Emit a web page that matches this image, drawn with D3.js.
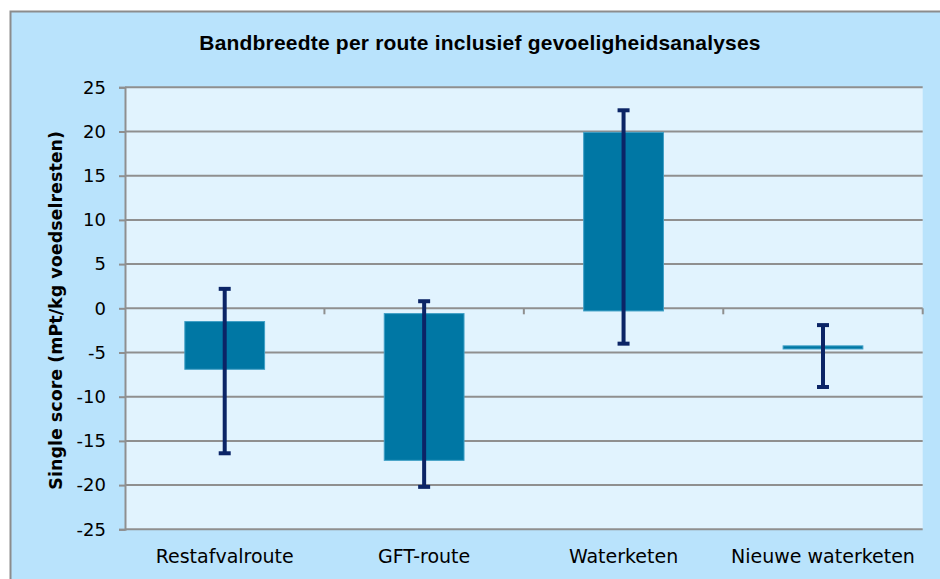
<!DOCTYPE html>
<meta charset="utf-8" />
<title>Bandbreedte per route</title>
<style>
  body { margin: 0; background: #fff; }
  svg { display: block; }
  .tick text { font-family: "DejaVu Sans", sans-serif; font-size: 18px; fill: #000; }
  .xlab .tick text { font-size: 19px; }
  .grid line { stroke: #8f8f8f; stroke-width: 2px; }
</style>
<body>
<svg width="940" height="579"></svg>
<script src="https://d3js.org/d3.v7.min.js"></script>
<script>
const width = 940, height = 579;
const svg = d3.select("svg");

const categories = ["Restafvalroute", "GFT-route", "Waterketen", "Nieuwe waterketen"];
const barLow = [-6.9, -17.2, -0.3, -4.6];
const barHigh = [-1.5, -0.6, 19.9, -4.25];
const errLow = [-16.4, -20.2, -4.0, -8.9];
const errHigh = [2.2, 0.8, 22.4, -1.9];
const yTicks = [-25, -20, -15, -10, -5, 0, 5, 10, 15, 20, 25];

const plot = { left: 125, right: 922.7, top: 87.3, bottom: 529.3 };

const y = d3.scaleLinear().domain([-25, 25]).range([plot.bottom, plot.top]);
const x = d3.scaleBand().domain(categories)
  .range([plot.left, plot.right])
  .paddingInner(0.6).paddingOuter(0.3);
const xEdge = d3.scaleLinear().domain([0, categories.length]).range([plot.left, plot.right]);

// outer chart area
svg.append("rect")
  .attr("x", 10.5).attr("y", 11.5)
  .attr("width", width).attr("height", height)
  .attr("fill", "#b9e3fc")
  .attr("stroke", "#8c8c8c").attr("stroke-width", 2);

// plot area
svg.append("rect")
  .attr("x", plot.left).attr("y", plot.top)
  .attr("width", plot.right - plot.left).attr("height", plot.bottom - plot.top)
  .attr("fill", "#e1f3fe");

// gridlines
svg.append("g").attr("class", "grid")
  .selectAll("line").data(yTicks).join("line")
  .attr("x1", plot.left).attr("x2", plot.right)
  .attr("y1", d => y(d)).attr("y2", d => y(d));

// y axis (hyphen minus like the original)
const yAxis = svg.append("g")
  .attr("transform", `translate(${plot.left},0)`)
  .call(d3.axisLeft(y).tickValues(yTicks).tickFormat(d => String(d)).tickSize(6).tickPadding(13));
yAxis.select(".domain").attr("stroke", "#8f8f8f").attr("stroke-width", 2);
yAxis.selectAll(".tick line").attr("stroke", "#8f8f8f").attr("stroke-width", 2);

// category boundary ticks on the zero line
svg.append("g").selectAll("line")
  .data(d3.range(1, categories.length + 1)).join("line")
  .attr("x1", d => xEdge(d)).attr("x2", d => xEdge(d))
  .attr("y1", y(0)).attr("y2", y(0) + 6)
  .attr("stroke", "#8f8f8f").attr("stroke-width", 2);

// category labels
const xAxis = svg.append("g").attr("class", "xlab")
  .attr("transform", `translate(0,${plot.bottom})`)
  .call(d3.axisBottom(x).tickSize(0).tickPadding(20));
xAxis.select(".domain").remove();

// floating bars
svg.append("g").selectAll("rect")
  .data(categories).join("rect")
  .attr("x", d => x(d))
  .attr("width", x.bandwidth())
  .attr("y", (d, i) => y(barHigh[i]))
  .attr("height", (d, i) => y(barLow[i]) - y(barHigh[i]))
  .attr("fill", "#0077a4")
  .attr("stroke", "#3f9fc6").attr("stroke-width", 1);

// error bars
const err = svg.append("g").attr("stroke", "#0b2466").attr("stroke-width", 4);
const cx = d => x(d) + x.bandwidth() / 2;
err.selectAll("line.v").data(categories).join("line").attr("class", "v")
  .attr("x1", cx).attr("x2", cx)
  .attr("y1", (d, i) => y(errHigh[i])).attr("y2", (d, i) => y(errLow[i]));
err.selectAll("line.t").data(categories).join("line").attr("class", "t")
  .attr("x1", d => cx(d) - 6).attr("x2", d => cx(d) + 6)
  .attr("y1", (d, i) => y(errHigh[i])).attr("y2", (d, i) => y(errHigh[i]));
err.selectAll("line.b").data(categories).join("line").attr("class", "b")
  .attr("x1", d => cx(d) - 6).attr("x2", d => cx(d) + 6)
  .attr("y1", (d, i) => y(errLow[i])).attr("y2", (d, i) => y(errLow[i]));

// title
svg.append("text")
  .attr("x", 480).attr("y", 50)
  .attr("text-anchor", "middle")
  .style("font-family", "'Liberation Sans', Arial, sans-serif")
  .style("font-weight", "bold").style("font-size", "21px")
  .style("letter-spacing", "0.2px")
  .text("Bandbreedte per route inclusief gevoeligheidsanalyses");

// y axis title
svg.append("text")
  .attr("transform", `translate(62,${(plot.top + plot.bottom) / 2 + 2}) rotate(-90)`)
  .attr("text-anchor", "middle")
  .style("font-family", "'DejaVu Sans', sans-serif")
  .style("font-weight", "bold").style("font-size", "17.5px")
  .text("Single score (mPt/kg voedselresten)");
</script>
</body>
